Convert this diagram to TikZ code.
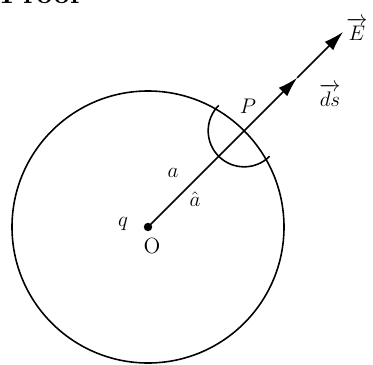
\documentclass[tikz,border=0pt]{standalone}
\usepackage{amsmath,amssymb}
\usetikzlibrary{arrows.meta,calc}
\tikzset{lbl/.style={inner sep=1pt,font=\fontsize{12.5}{14}\selectfont}}

\begin{document}
\begin{tikzpicture}[>={Latex[length=4mm,width=2.4mm]},line width=0.9pt]
    \useasboundingbox (-2.96,-2.74) rectangle (4.5,4.54);
    % --- title, cut by the frame
    \node[anchor=base west,inner sep=0pt,font=\fontsize{16.5}{18}\selectfont\bfseries] (proof) at (-2.96,4.47) {Proof};
    % --- sphere and charge
    \coordinate (O) at (0,0);
    \draw (O) circle (2.72);
    \fill (O) circle (2.4pt);
    \node[lbl] (q) at (-0.5,0.06) {$q$};
    \node[lbl] (o) at (0.08,-0.38) {O};
    % --- radial line and field
    \coordinate (P) at (45:2.72);
    \coordinate (D) at (45:4.22);
    \coordinate (E) at (45:5.52);
    \draw (O) -- (P);
    \draw[->] (P) -- (D);
    \draw[->] (D) -- (E);
    \draw (P) ++(135:0.72) arc (135:315:0.72);
    \node[lbl] (p) at (2.0,2.42) {$P$};
    \node[lbl] (a) at (0.5,1.08) {$a$};
    \node[lbl] (ahat) at (0.94,0.56) {$\hat{a}$};
    \node[lbl] (e) at (4.18,3.96) {$\overrightarrow{E}$};
    \node[lbl] (ds) at (3.64,2.64) {$\overrightarrow{ds}$};
  \end{tikzpicture}
\end{document}
